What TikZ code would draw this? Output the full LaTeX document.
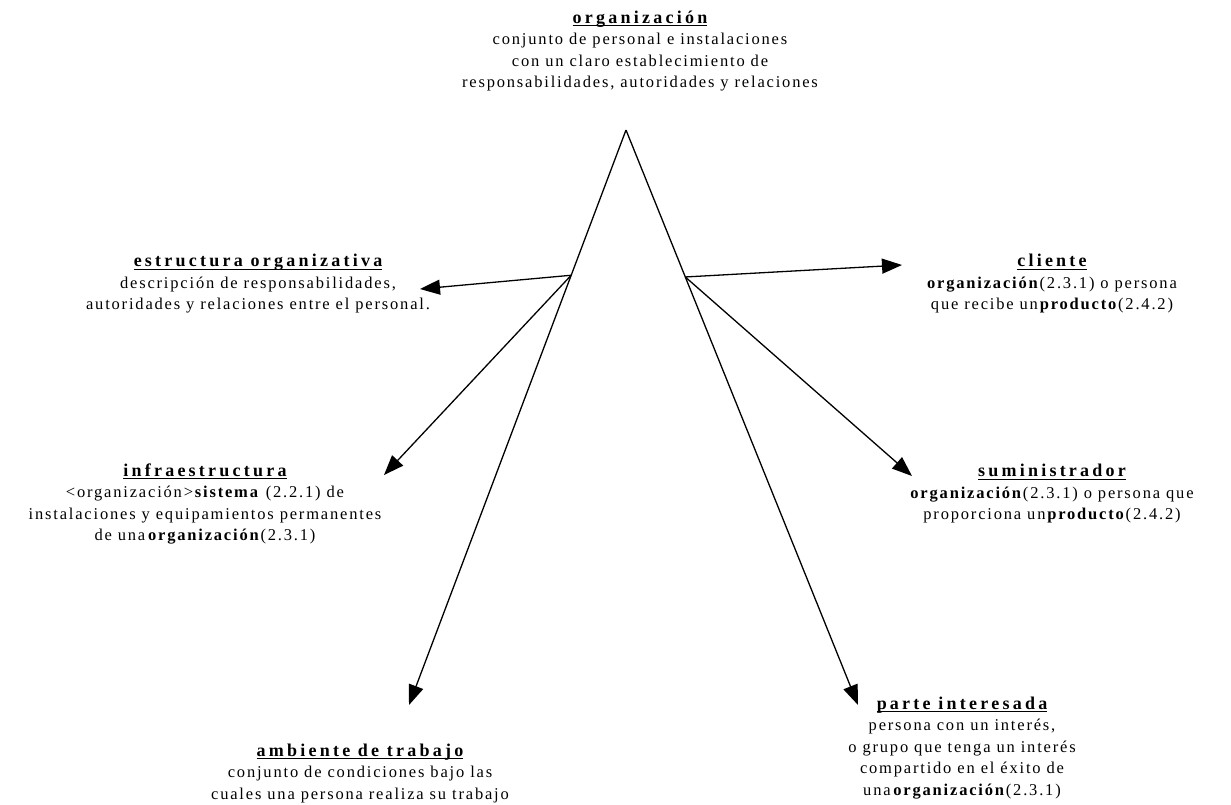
\documentclass[tikz,border=0pt]{standalone}
\usepackage{fontspec}
\setmainfont{Liberation Serif}[LetterSpace=11]
\newfontfamily\headfont{Liberation Serif}[LetterSpace=18]
\usetikzlibrary{arrows.meta,calc}

% concept heading: bold, spaced, underlined with a firm rule
\newcommand\heading[1]{%
  \setbox0=\hbox{\fontsize{18}{21.5}\selectfont\headfont\bfseries #1}%
  \leavevmode\rlap{\copy0}\rule[-3pt]{\wd0}{1.2pt}}

\tikzset{
  concept/.style={align=center, inner sep=0pt,
    font=\fontsize{16.5}{21.5}\selectfont},
  link/.style={line width=1.3pt, -{Triangle[length=20pt,width=15pt]}},
}

\begin{document}
\begin{tikzpicture}[x=1pt,y=-1pt]
\useasboundingbox[fill=white] (0,0) rectangle (1231,804);

% definitions
\node[concept] (org) at (640,51)
  {\heading{organización}\\
   conjunto de personal e instalaciones\\
   con un claro establecimiento de\\
   responsabilidades, autoridades y relaciones};

\node[concept] (estr) at (258,284)
  {\heading{estructura organizativa}\\
   descripción de responsabilidades,\\
   autoridades y relaciones entre el personal.};

\node[concept] (cli) at (1052,284)
  {\heading{cliente}\\
   \textbf{organización}(2.3.1) o persona\\
   que recibe un\textbf{producto}(2.4.2)};

\node[concept] (infra) at (205,504)
  {\heading{infraestructura}\\
   <organización>\textbf{sistema} (2.2.1) de\\
   instalaciones y equipamientos permanentes\\
   de una\,\textbf{organización}(2.3.1)};

\node[concept] (sum) at (1052,494)
  {\heading{suministrador}\\
   \textbf{organización}(2.3.1) o persona que\\
   proporciona un\textbf{producto}(2.4.2)};

\node[concept] (amb) at (360,773)
  {\heading{ambiente de trabajo}\\
   conjunto de condiciones bajo las\\
   cuales una persona realiza su trabajo};

\node[concept] (parte) at (962,748)
  {\heading{parte interesada}\\
   persona con un interés,\\
   o grupo que tenga un interés\\
   compartido en el éxito de\\
   una\,\textbf{organización}(2.3.1)};

% tree of connectors
\coordinate (apex) at (626,130);
\coordinate (tipAmb) at (409,705);
\coordinate (tipParte) at (858,705);
\coordinate (lsplit) at ($(apex)!0.2526!(tipAmb)$);
\coordinate (rsplit) at ($(apex)!0.2556!(tipParte)$);
\coordinate (tipEstr) at (420,289);
\coordinate (tipInfra) at (384,475);
\coordinate (tipCli) at (902,265);
\coordinate (tipSum) at (912,476);

\draw[link] (apex) -- (tipAmb);
\draw[link] (apex) -- (tipParte);
\draw[link] (lsplit) -- (tipEstr);
\draw[link] (lsplit) -- (tipInfra);
\draw[link] (rsplit) -- (tipCli);
\draw[link] (rsplit) -- (tipSum);
\end{tikzpicture}
\end{document}
